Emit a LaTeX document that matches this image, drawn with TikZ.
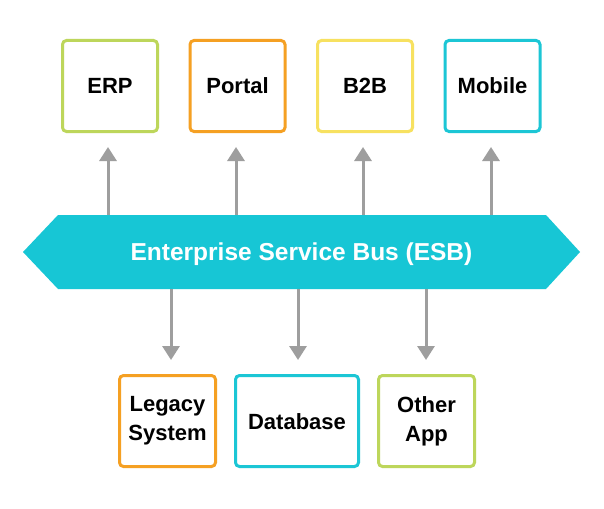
\documentclass[tikz,border=0pt]{standalone}
\usepackage{fontspec}
\setmainfont{Liberation Sans}
\usetikzlibrary{arrows.meta}
\definecolor{cgreen}{HTML}{BDD65B}
\definecolor{corange}{HTML}{F5A023}
\definecolor{cyellow}{HTML}{F7E160}
\definecolor{ccyan}{HTML}{1CC6D5}
\definecolor{cbus}{HTML}{17C6D5}
\definecolor{carrow}{HTML}{9E9E9E}
\begin{document}
\begin{tikzpicture}[x=1pt,y=-1pt]
\tikzset{
  box/.style={draw, line width=3pt, rounded corners=4pt, fill=white, minimum width=95pt, minimum height=91pt, font=\bfseries\fontsize{22}{29}\selectfont, align=center, text=black, inner sep=0pt},
  oneline/.style={text height=16pt, text depth=0pt},
  arr/.style={draw=carrow, line width=3pt, -{Triangle[length=14pt,width=17pt]}, shorten >=14pt},
}
\useasboundingbox (0,0) rectangle (604,508);
\fill[white] (0,0) rectangle (604,508);
% bus
\node[minimum width=523pt, minimum height=74pt, inner sep=0pt] (bus) at (301.5,252) {};
\fill[cbus] (23,252) -- (58,215) -- (546,215) -- (580,252) -- (546,289) -- (58,289) -- cycle;
\node[text=white, font=\bfseries\fontsize{24.5}{28}\selectfont, text height=17.5pt, text depth=0pt, inner sep=0pt] (bustext) at (bus.center) {Enterprise Service Bus (ESB)};
% top boxes
\node[box, oneline, draw=cgreen] (erp) at (110,86) {ERP};
\node[box, oneline, draw=corange] (portal) at (237.5,86) {Portal};
\node[box, oneline, draw=cyellow] (b2b) at (365,86) {B2B};
\node[box, oneline, draw=ccyan] (mobile) at (492.5,86) {Mobile};
% bottom boxes
\node[box, draw=corange, minimum width=96pt] (legacy) at (167.5,421) {Legacy\\System};
\node[box, oneline, draw=ccyan, minimum width=123pt] (db) at (297,421) {Database};
\node[box, draw=cgreen, minimum width=96pt] (other) at (426.5,421) {Other\\App};
% arrows up
\coordinate (t1) at (108,215); \coordinate (t2) at (236,215);
\coordinate (t3) at (363,215); \coordinate (t4) at (491,215);
\draw[arr] (t1) -- (t1 |- erp.south);
\draw[arr] (t2) -- (t2 |- portal.south);
\draw[arr] (t3) -- (t3 |- b2b.south);
\draw[arr] (t4) -- (t4 |- mobile.south);
% arrows down
\coordinate (d1) at (171,289); \coordinate (d2) at (298,289); \coordinate (d3) at (426,289);
\draw[arr] (d1) -- (d1 |- legacy.north);
\draw[arr] (d2) -- (d2 |- db.north);
\draw[arr] (d3) -- (d3 |- other.north);
\end{tikzpicture}
\end{document}
